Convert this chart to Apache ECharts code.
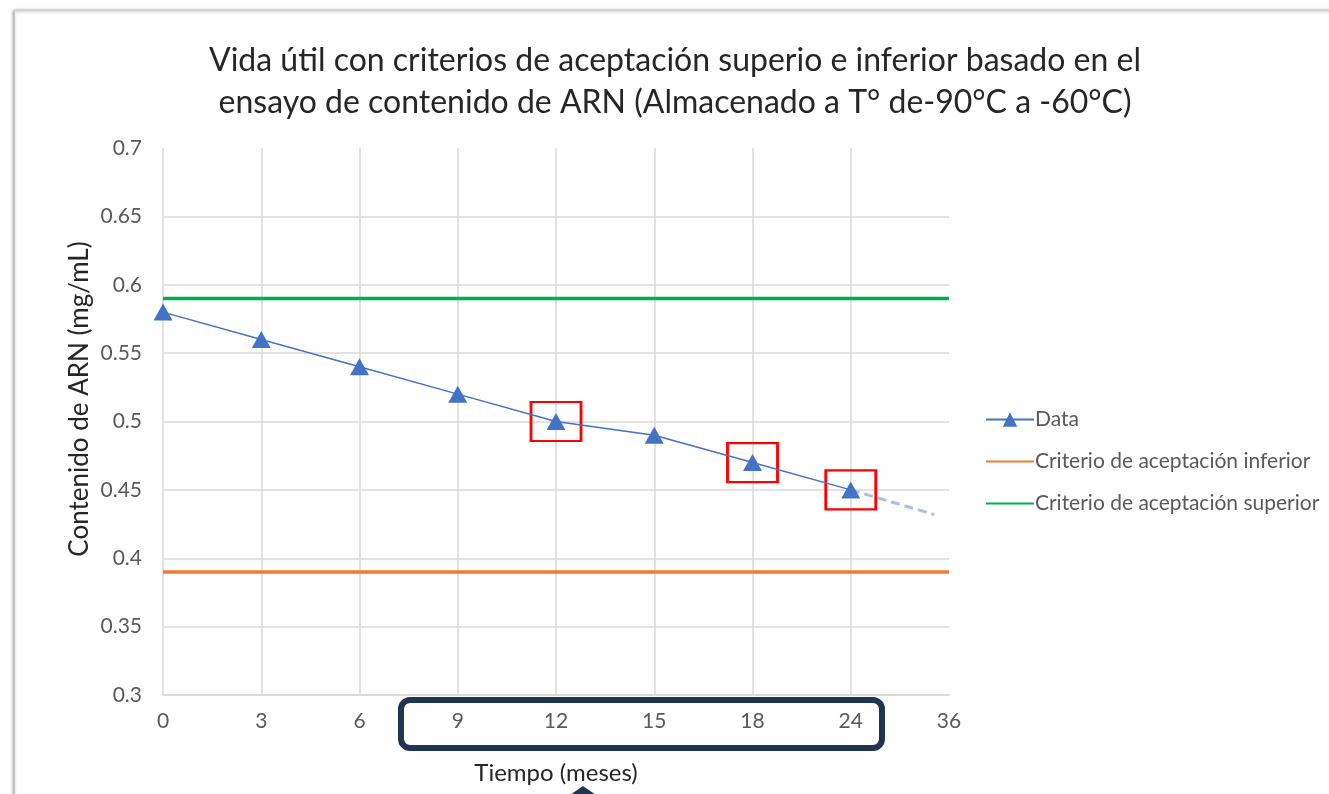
<!DOCTYPE html>
<html>
<head>
<meta charset="utf-8">
<script src="https://cdn.jsdelivr.net/npm/echarts@6/dist/echarts.min.js"></script>
<style>
  html, body { margin: 0; padding: 0; background: #ffffff; }
  #chart { width: 1329px; height: 794px; }
</style>
</head>
<body>
<div id="chart"></div>
<script>
// Time points (months) shown on the category axis
const months = ['0', '3', '6', '9', '12', '15', '18', '24', '36'];
// Measured RNA content (mg/mL) at each time point up to 24 months
const rnaContent = [0.58, 0.56, 0.54, 0.52, 0.50, 0.49, 0.47, 0.45];
// Acceptance limits
const lowerLimit = [0.39, 0.39, 0.39, 0.39, 0.39, 0.39, 0.39, 0.39, 0.39];
const upperLimit = [0.59, 0.59, 0.59, 0.59, 0.59, 0.59, 0.59, 0.59, 0.59];
// Forecast segment beyond the last measurement (axis position, value)
const forecastPos = [7, 7.85];
const forecastVal = [0.45, 0.432];
// Points highlighted with a red box
const highlighted = ['12', '18', '24'];
// Y axis ticks
const yMin = 0.3, yMax = 0.7, yStep = 0.05;

const FONT = 'Lato';
const chart = echarts.init(document.getElementById('chart'));

// tick labels drawn through a rich style so the size is applied as given
const tickRich = { t: { color: '#595959', fontSize: 21, fontFamily: FONT } };

chart.setOption({
  animation: false,
  backgroundColor: '#ffffff',
  textStyle: { fontFamily: FONT },
  title: {
    text: 'Vida útil con criterios de aceptación superio e inferior basado en el\nensayo de contenido de ARN (Almacenado a T° de-90°C a -60°C)',
    left: 670,
    top: 35,
    textAlign: 'center',
    textStyle: { fontFamily: FONT, fontSize: 32, fontWeight: 'normal', color: '#262626', lineHeight: 42 }
  },
  legend: {
    orient: 'vertical',
    left: 980,
    top: 404,
    itemWidth: 48,
    itemHeight: 18,
    itemGap: 21,
    data: [
      { name: 'Data' },
      { name: 'Criterio de aceptación inferior', itemStyle: { opacity: 0 } },
      { name: 'Criterio de aceptación superior', itemStyle: { opacity: 0 } }
    ],
    textStyle: { fontFamily: FONT, fontSize: 21, color: '#595959', padding: [0, 0, 0, -4] }
  },
  grid: { left: 163, right: 380, top: 148, bottom: 99, containLabel: false },
  xAxis: [{
    type: 'category',
    data: months,
    boundaryGap: false,
    axisLine: { lineStyle: { color: '#d9d9d9', width: 1.5 } },
    axisTick: { show: false },
    axisLabel: { margin: 16, fontSize: 21, formatter: (v) => '{t|' + v + '}', rich: tickRich },
    splitLine: {
      show: true,
      interval: (idx) => idx < months.length - 1,
      lineStyle: { color: '#d9d9d9', width: 1.5 }
    },
    name: 'Tiempo (meses)',
    nameLocation: 'middle',
    nameGap: 66,
    nameTextStyle: { color: '#262626', fontSize: 24, fontFamily: FONT }
  }, {
    type: 'value',
    min: 0,
    max: months.length - 1,
    show: false
  }],
  yAxis: {
    type: 'value',
    min: yMin,
    max: yMax,
    interval: yStep,
    axisLine: { show: false },
    axisTick: { show: false },
    axisLabel: { margin: 21, fontSize: 21, rich: tickRich,
      formatter: (v) => '{t|' + String(parseFloat(v.toFixed(2))) + '}' },
    splitLine: { show: true, showMaxLine: false, lineStyle: { color: '#d9d9d9', width: 1.5 } }
  },
  graphic: [
    // framed page edge
    { type: 'rect', z: -100, shape: { x: 15, y: 11, width: 1400, height: 900 },
      style: { fill: '#ffffff', stroke: '#e6e6e6', lineWidth: 1, shadowBlur: 3, shadowOffsetX: -1.5, shadowColor: 'rgba(0,0,0,0.5)' } },
    // y axis title
    { type: 'text', x: 80, y: 399, rotation: Math.PI / 2,
      style: { text: 'Contenido de ARN (mg/mL)', font: '26px ' + FONT, fill: '#262626', align: 'center', verticalAlign: 'middle' } },
    // callout box around the 9–24 month labels
    { type: 'rect', z: 100, shape: { x: 401, y: 700, width: 481, height: 48, r: 9 },
      style: { fill: 'none', stroke: '#1f3551', lineWidth: 6 } },
    { type: 'polygon', z: 100, shape: { points: [[570, 795], [583, 786], [596, 795]] },
      style: { fill: '#1f3551' } }
  ],
  series: [
    {
      name: 'Data',
      type: 'line',
      data: rnaContent,
      symbol: 'triangle',
      symbolSize: [19, 17],
      itemStyle: { color: '#4472c4' },
      lineStyle: { color: '#4472c4', width: 1.5 },
      z: 5,
      markPoint: {
        symbol: 'rect',
        symbolSize: [50, 39],
        label: { show: false },
        itemStyle: { color: 'rgba(0,0,0,0)', borderColor: '#ff0000', borderWidth: 2.5 },
        data: highlighted.map((m) => ({ coord: [m, rnaContent[months.indexOf(m)]] }))
      }
    },
    {
      name: 'forecast',
      type: 'line',
      xAxisIndex: 1,
      data: forecastPos.map((p, i) => [p, forecastVal[i]]),
      symbol: 'none',
      lineStyle: { color: '#a9c1ea', width: 3, type: [9, 5] },
      z: 4
    },
    {
      name: 'Criterio de aceptación inferior',
      type: 'line',
      data: lowerLimit,
      symbol: 'none',
      itemStyle: { color: '#ed7d31' },
      lineStyle: { color: '#ed7d31', width: 3.5 },
      z: 3
    },
    {
      name: 'Criterio de aceptación superior',
      type: 'line',
      data: upperLimit,
      symbol: 'none',
      itemStyle: { color: '#00b050' },
      lineStyle: { color: '#00b050', width: 3.5 },
      z: 3
    }
  ]
});
</script>
</body>
</html>
